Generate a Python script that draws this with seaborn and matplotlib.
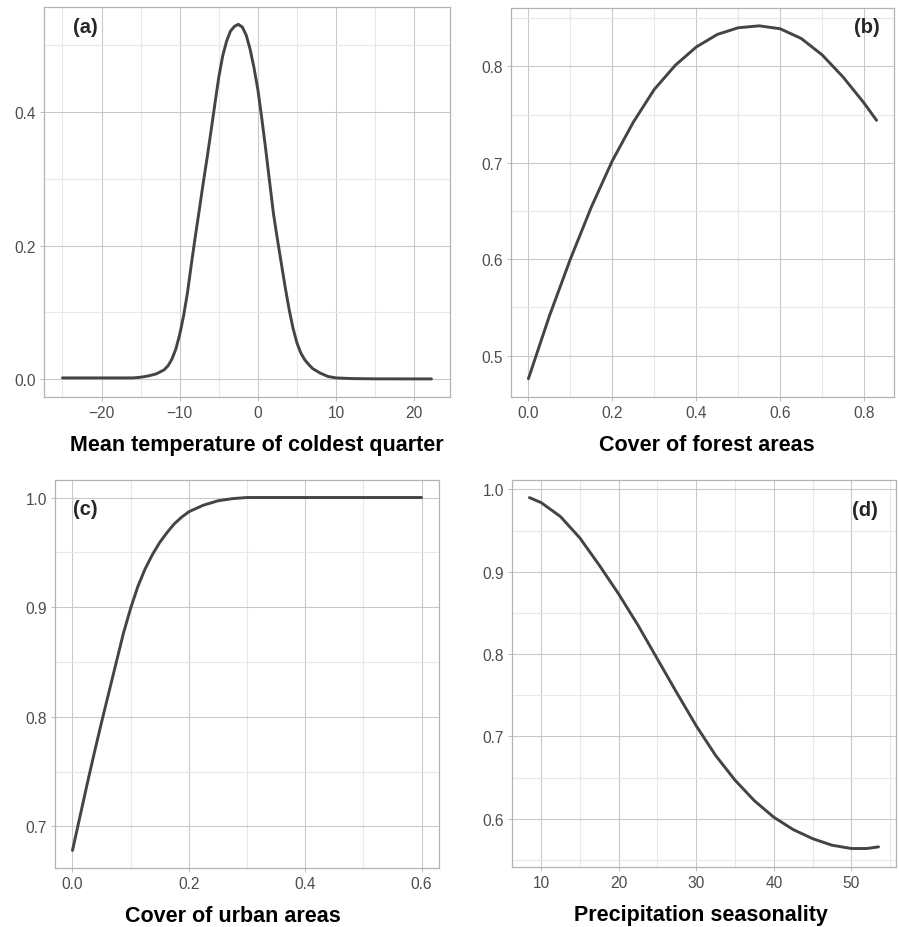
import numpy as np
import pandas as pd
import matplotlib.pyplot as plt
import seaborn as sns
from matplotlib.ticker import FixedLocator, FormatStrFormatter


# (a) Mean temperature of coldest quarter
temp_x = [-25, -20, -16, -15, -14, -13, -12, -11.5, -11, -10.5, -10, -9.5, -9, -8.5,
          -8, -7.5, -7, -6.5, -6, -5.5, -5, -4.5, -4, -3.5, -3, -2.5, -2, -1.5, -1,
          -0.5, 0, 0.5, 1, 1.5, 2, 2.5, 3, 3.5, 4, 4.5, 5, 5.5, 6, 6.5, 7, 8, 9, 10,
          12, 15, 20, 22.2]
temp_y = [0.002, 0.002, 0.002, 0.003, 0.005, 0.008, 0.014, 0.020, 0.030, 0.045, 0.067,
          0.095, 0.130, 0.173, 0.214, 0.253, 0.293, 0.331, 0.371, 0.412, 0.452, 0.484,
          0.506, 0.521, 0.528, 0.531, 0.527, 0.515, 0.494, 0.466, 0.433, 0.390, 0.344,
          0.295, 0.247, 0.209, 0.173, 0.137, 0.104, 0.076, 0.054, 0.039, 0.029, 0.022,
          0.016, 0.009, 0.004, 0.002, 0.001, 0.0006, 0.0005, 0.0005]

# (b) Cover of forest areas
forest_x = [0.0, 0.05, 0.1, 0.15, 0.2, 0.25, 0.3, 0.35, 0.4, 0.45, 0.5, 0.55, 0.6,
            0.65, 0.7, 0.75, 0.8, 0.83]
forest_y = [0.476, 0.541, 0.600, 0.654, 0.702, 0.742, 0.776, 0.801, 0.820, 0.833,
            0.840, 0.842, 0.839, 0.829, 0.812, 0.789, 0.762, 0.744]

# (c) Cover of urban areas
urban_x = [0.0, 0.0125, 0.025, 0.0375, 0.05, 0.0625, 0.075, 0.0875, 0.1, 0.1125,
           0.125, 0.1375, 0.15, 0.1625, 0.175, 0.1875, 0.2, 0.2125, 0.225, 0.2375,
           0.25, 0.275, 0.3, 0.35, 0.4, 0.5, 0.6]
urban_y = [0.678, 0.708, 0.738, 0.767, 0.795, 0.822, 0.849, 0.876, 0.899, 0.919,
           0.935, 0.948, 0.959, 0.968, 0.976, 0.982, 0.987, 0.990, 0.993, 0.995,
           0.997, 0.999, 1.0, 1.0, 1.0, 1.0, 1.0]

# (d) Precipitation seasonality
precip_x = [8.5, 10, 12.5, 15, 17.5, 20, 22.5, 25, 27.5, 30, 32.5, 35, 37.5, 40,
            42.5, 45, 47.5, 50, 52, 53.5]
precip_y = [0.990, 0.984, 0.967, 0.941, 0.908, 0.873, 0.835, 0.794, 0.753, 0.713,
            0.677, 0.647, 0.622, 0.602, 0.587, 0.576, 0.568, 0.564, 0.564, 0.566]

panels = [
    dict(x=temp_x, y=temp_y, label='(a)', xlabel='Mean temperature of coldest quarter',
         rect=[0.0489, 0.5711, 0.4516, 0.4203], xlim=(-27.36, 24.56), ylim=(-0.0266, 0.557),
         xt=[-20, -10, 0, 10, 20], xm=[-25, -15, -5, 5, 15],
         yt=[0.0, 0.2, 0.4], ym=[0.1, 0.3, 0.5], xfmt=None, yfmt='%.1f',
         lx=0.071, ly=0.974, ha='left', xlx=0.525),
    dict(x=forest_x, y=forest_y, label='(b)', xlabel='Cover of forest areas',
         rect=[0.5684, 0.5711, 0.4260, 0.4192], xlim=(-0.0415, 0.8715), ylim=(0.457, 0.8605),
         xt=[0.0, 0.2, 0.4, 0.6, 0.8], xm=[0.1, 0.3, 0.5, 0.7],
         yt=[0.5, 0.6, 0.7, 0.8], ym=[0.55, 0.65, 0.75, 0.85], xfmt='%.1f', yfmt='%.1f',
         lx=0.963, ly=0.977, ha='right', xlx=0.511),
    dict(x=urban_x, y=urban_y, label='(c)', xlabel='Cover of urban areas',
         rect=[0.0612, 0.0636, 0.4271, 0.4181], xlim=(-0.03, 0.63), ylim=(0.662, 1.016),
         xt=[0.0, 0.2, 0.4, 0.6], xm=[0.1, 0.3, 0.5],
         yt=[0.7, 0.8, 0.9, 1.0], ym=[0.75, 0.85, 0.95], xfmt='%.1f', yfmt='%.1f',
         lx=0.046, ly=0.951, ha='left', xlx=0.464),
    dict(x=precip_x, y=precip_y, label='(d)', xlabel='Precipitation seasonality',
         rect=[0.5695, 0.0647, 0.4271, 0.4170], xlim=(6.25, 55.75), ylim=(0.5416, 1.0114),
         xt=[10, 20, 30, 40, 50], xm=[15, 25, 35, 45, 55],
         yt=[0.6, 0.7, 0.8, 0.9, 1.0], ym=[0.55, 0.65, 0.75, 0.85, 0.95], xfmt=None,
         yfmt='%.1f', lx=0.954, ly=0.947, ha='right', xlx=0.492),
]

sns.set_theme(style='white')
plt.rcParams['font.family'] = ['Liberation Sans', 'DejaVu Sans']

fig = plt.figure(figsize=(8.99, 9.28), dpi=100)

for p in panels:
    ax = fig.add_axes(p['rect'])
    sns.lineplot(x=p['x'], y=p['y'], ax=ax, color='#444444', lw=2.1)
    ax.set_xlim(*p['xlim'])
    ax.set_ylim(*p['ylim'])
    ax.xaxis.set_major_locator(FixedLocator(p['xt']))
    ax.xaxis.set_minor_locator(FixedLocator(p['xm']))
    ax.yaxis.set_major_locator(FixedLocator(p['yt']))
    ax.yaxis.set_minor_locator(FixedLocator(p['ym']))
    if p['xfmt']:
        ax.xaxis.set_major_formatter(FormatStrFormatter(p['xfmt']))
    if p['yfmt']:
        ax.yaxis.set_major_formatter(FormatStrFormatter(p['yfmt']))
    ax.set_axisbelow(True)
    ax.grid(which='major', color='#C9C9C9', lw=0.8)
    ax.grid(which='minor', color='#E8E8E8', lw=0.8)
    ax.tick_params(which='major', direction='out', length=2.8, width=0.6, color='#B3B3B3',
                   labelsize=11.2, labelcolor='#4D4D4D', pad=3, bottom=True, left=True)
    ax.tick_params(which='minor', length=0)
    for s in ax.spines.values():
        s.set_color('#B3B3B3')
        s.set_linewidth(0.9)
    ax.set_ylabel('')
    ax.set_xlabel(p['xlabel'], fontsize=15.5, fontweight='bold', color='black',
                  labelpad=10, x=p['xlx'])
    ax.text(p['lx'], p['ly'], p['label'], transform=ax.transAxes, fontsize=14.5,
            fontweight='bold', ha=p['ha'], va='top')

fig.savefig('out.png', dpi=100)
